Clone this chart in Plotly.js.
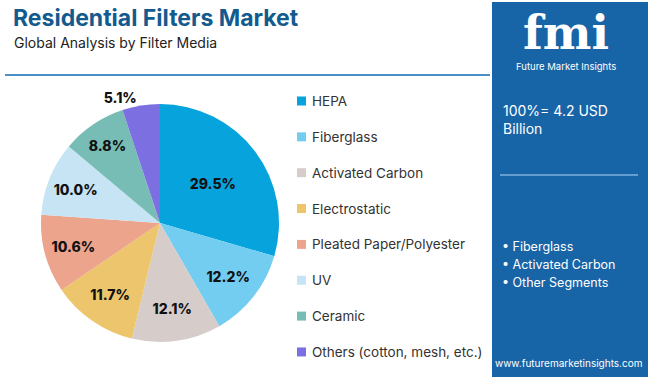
<!DOCTYPE html>
<html>
<head>
<meta charset="utf-8">
<script src="https://cdn.plot.ly/plotly-3.0.1.min.js"></script>
<style>html,body{margin:0;padding:0;background:#fff;}#chart{width:650px;height:379px;}</style>
</head>
<body>
<div id="chart"></div>
<script>
// Data
const categories = ["HEPA", "Fiberglass", "Activated Carbon", "Electrostatic", "Pleated Paper/Polyester", "UV", "Ceramic", "Others (cotton, mesh, etc.)"];
const shares = [29.5, 12.2, 12.1, 11.7, 10.6, 10.0, 8.8, 5.1];
const colors = ["#07a3dc", "#72cdf1", "#d6cdca", "#ecc56c", "#eca48c", "#c6e4f4", "#77bdb6", "#7c6fe1"];
const textPositions = ["inside", "inside", "inside", "inside", "inside", "inside", "inside", "outside"];
const totalText = "100%= 4.2 USD<br>Billion";
const keySegments = ["Fiberglass", "Activated Carbon", "Other Segments"];

const W = 650, H = 379;
const px = x => x / W;
const py = y => 1 - y / H;
const FONT = "Inter, 'Open Sans', sans-serif";

const trace = {
  type: "pie",
  labels: categories,
  values: shares,
  sort: false,
  direction: "clockwise",
  rotation: 0,
  marker: {colors: colors, line: {width: 0}},
  texttemplate: "%{value:.1f}%",
  textposition: textPositions,
  insidetextorientation: "horizontal",
  textfont: {family: FONT, size: 14, color: "#111", weight: 800},
  outsidetextfont: {family: FONT, size: 14, color: "#111", weight: 800},
  hoverinfo: "label+percent",
  showlegend: false,
  domain: {x: [px(41), px(279)], y: [py(342), py(104)]}
};

const shapes = [
  // header rule
  {type: "line", xref: "paper", yref: "paper", x0: px(5), x1: px(490), y0: py(75), y1: py(75), line: {color: "#4a90c8", width: 2}},
  // right panel
  {type: "rect", xref: "paper", yref: "paper", x0: px(492), x1: px(648), y0: py(377), y1: py(2), fillcolor: "#1764a7", line: {width: 0}, layer: "below"},
  {type: "line", xref: "paper", yref: "paper", x0: px(500), x1: px(638), y0: py(175), y1: py(175), line: {color: "#7fb2df", width: 1.5}}
];

const annotations = [
  {text: "<b>Residential Filters Market</b>", x: px(11), y: py(18), xanchor: "left", yanchor: "middle", font: {family: FONT, size: 23, color: "#135a8e"}},
  {text: "Global Analysis by Filter Media", x: px(12), y: py(42), xanchor: "left", yanchor: "middle", font: {family: FONT, size: 14, color: "#222"}},
  // panel texts
  {text: "<b>fmi</b>", x: px(566), y: py(33), xanchor: "center", yanchor: "middle", font: {family: "'DejaVu Serif', serif", size: 46, color: "#ffffff"}},
  {text: "Future Market Insights", x: px(566), y: py(67), xanchor: "center", yanchor: "middle", font: {family: FONT, size: 9.5, color: "#ffffff"}},
  {text: totalText, x: px(501), y: py(119), xanchor: "left", yanchor: "middle", align: "left", font: {family: FONT, size: 14, color: "#ffffff"}},
  {text: "www.futuremarketinsights.com", x: px(568), y: py(363), xanchor: "center", yanchor: "middle", font: {family: FONT, size: 10, color: "#ffffff"}}
];

keySegments.forEach((s, i) => {
  annotations.push({text: "• " + s, x: px(500), y: py(246 + i * 18), xanchor: "left", yanchor: "middle", font: {family: FONT, size: 12.5, color: "#ffffff"}});
});

// Legend built from categories and colors
categories.forEach((c, i) => {
  const yc = 101 + i * 35.85;
  shapes.push({type: "rect", xref: "paper", yref: "paper", x0: px(297), x1: px(306), y0: py(yc + 4.5), y1: py(yc - 4.5), fillcolor: colors[i], line: {width: 0}});
  annotations.push({text: c, x: px(310), y: py(yc), xanchor: "left", yanchor: "middle", font: {family: FONT, size: 13.5, color: "#333"}});
});
annotations.forEach(a => { a.xref = "paper"; a.yref = "paper"; a.showarrow = false; });

const layout = {
  width: W, height: H,
  margin: {l: 0, r: 0, t: 0, b: 0},
  paper_bgcolor: "#ffffff",
  showlegend: false,
  shapes: shapes,
  annotations: annotations
};

Plotly.newPlot("chart", [trace], layout, {displayModeBar: false, staticPlot: true});
</script>
</body>
</html>
